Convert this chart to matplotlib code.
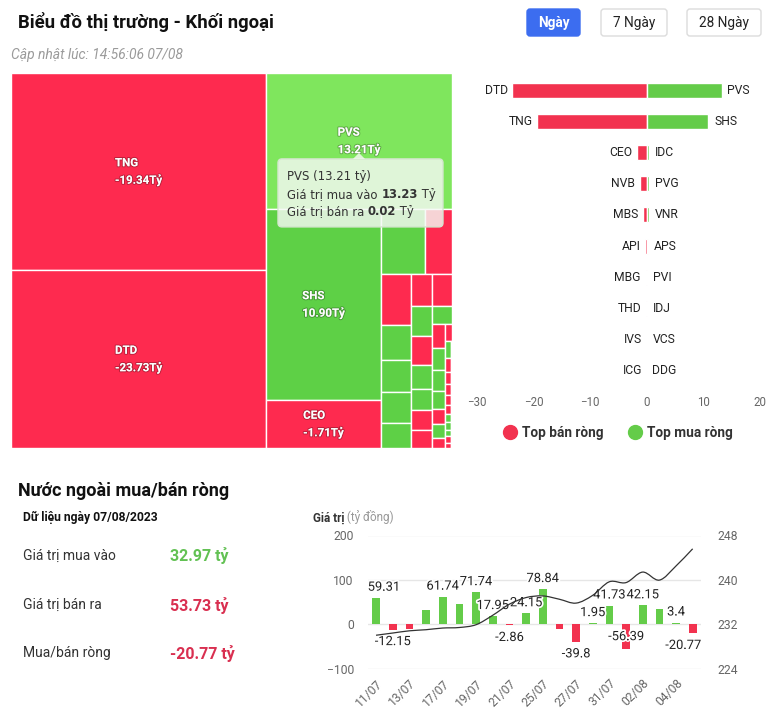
import matplotlib
matplotlib.use('Agg')
import matplotlib.pyplot as plt
import matplotlib.patheffects as pe
from matplotlib.patches import Rectangle, FancyBboxPatch, Polygon, PathPatch
from matplotlib.path import Path
from matplotlib.lines import Line2D
import numpy as np

plt.rcParams['font.family'] = ['Roboto', 'DejaVu Sans']

W, H = 774, 728

RED = '#fe2a4f'
GREEN = '#5ed046'
GREEN_HOVER = '#7fe65d'
RED_BAR = '#f2324f'
GREEN_BAR = '#64cc49'

# treemap: cell size = total traded value (buy + sell), colour = sign of net flow
tm_codes = ['TNG', 'DTD', 'PVS', 'SHS', 'CEO']
tm_net = [-19.34, -23.73, 13.21, 10.90, -1.71]
tm_total = [26.34, 23.80, 13.25, 11.52, 2.89,
            1.52, 0.93, 0.79, 0.55, 0.50, 0.49, 0.39, 0.35, 0.335, 0.33, 0.31,
            0.265, 0.23, 0.22, 0.20, 0.19, 0.17, 0.16, 0.155, 0.13, 0.105, 0.10,
            0.075, 0.058, 0.05, 0.042, 0.036, 0.032, 0.028, 0.026, 0.024, 0.022,
            0.02, 0.018, 0.016, 0.014, 0.012, 0.01, 0.008, 0.007, 0.006]
tm_up = [0, 0, 1, 1, 0,
         1, 0, 0, 1, 1, 1, 1, 0, 0, 1, 0, 1, 1, 0, 0, 1, 0, 1, 1, 1, 0, 1, 0,
         0, 1, 0, 0, 0, 0, 0, 1, 1, 1, 0, 0, 1, 0, 1, 0, 1, 0]
hover = 'PVS'
hover_buy = 13.23
hover_sell = 0.02

# top net sell / net buy
sell_codes = ['DTD', 'TNG', 'CEO', 'NVB', 'MBS', 'API', 'MBG', 'THD', 'IVS', 'ICG']
sell_vals = [-23.73, -19.34, -1.71, -1.2, -0.6, -0.3, -0.2, -0.15, -0.04, -0.03]
buy_codes = ['PVS', 'SHS', 'IDC', 'PVG', 'VNR', 'APS', 'PVI', 'IDJ', 'VCS', 'DDG']
buy_vals = [13.21, 10.90, 0.45, 0.4, 0.35, 0.25, 0.08, 0.05, 0.03, 0.02]

# daily net flow (ty dong) and index
dates = ['11/07', '12/07', '13/07', '14/07', '17/07', '18/07', '19/07', '20/07',
         '21/07', '24/07', '25/07', '26/07', '27/07', '28/07', '31/07', '01/08',
         '02/08', '03/08', '04/08', '07/08']
flow = [59.31, -12.15, -11.3, 32.1, 61.74, 45.3, 71.74, 17.95, -2.86, 24.15,
        78.84, -11.7, -39.8, 1.95, 41.73, -56.39, 42.15, 34.3, 3.4, -20.77]
index = [230.0, 230.4, 230.8, 231.0, 231.3, 231.4, 231.9, 233.6, 235.6, 236.8,
         237.1, 236.5, 235.8, 237.2, 239.65, 239.5, 241.4, 239.95, 242.5, 245.6]
hidden_labels = [2, 3, 5, 11, 17]

buy_total = 32.97
sell_total = 53.73
net_total = -20.77


def squarify(values, x, y, w, h):
    # alternating squarified layout (column first), like Highcharts
    total = sum(values)
    areas = [v * w * h / total for v in values]
    out = []
    vertical = True

    def ratio(a, s, side):
        thick = s / side
        length = a / thick
        return max(thick / length, length / thick)

    i = 0
    while i < len(areas):
        row = [areas[i]]
        j = i + 1
        while j < len(areas):
            side = h if vertical else w
            old = ratio(row[-1], sum(row), side)
            new = ratio(row[-1], sum(row) + areas[j], side)
            if new > old:
                break
            row.append(areas[j])
            j += 1
        s = sum(row)
        if vertical:
            cw = s / h
            cy = y
            for a in row:
                out.append((x, cy, cw, a / cw))
                cy += a / cw
            x += cw
            w -= cw
        else:
            rh = s / w
            cx = x
            for a in row:
                out.append((cx, y, a / rh, rh))
                cx += a / rh
            y += rh
            h -= rh
        vertical = not vertical
        i = j
    return out


fig = plt.figure(figsize=(W / 100, H / 100), dpi=100)
fig.patch.set_facecolor('white')


def axes_px(x0, y0, x1, y1, **kw):
    return fig.add_axes([x0 / W, 1 - y1 / H, (x1 - x0) / W, (y1 - y0) / H], **kw)


# ---------------- treemap
tm = axes_px(11, 73, 452, 448)
TW, TH = 441, 375
rects = squarify(tm_total, 0, 0, TW, TH)
for k, (x, y, w, h) in enumerate(rects):
    c = GREEN if tm_up[k] else RED
    if k < len(tm_codes) and tm_codes[k] == hover:
        c = GREEN_HOVER
    tm.add_patch(Rectangle((x, y), w, h, facecolor=c, edgecolor='white', lw=1))
for k, code in enumerate(tm_codes):
    x, y, w, h = rects[k]
    tm.text(x + w / 2, y + h / 2, '%s\n%.2fTỷ' % (code, tm_net[k]), ha='center', va='center',
            multialignment='left', color='white', fontsize=8.3, weight='bold', linespacing=1.3,
            path_effects=[pe.withStroke(linewidth=1.5, foreground=(0, 0, 0, 0.25))])
tm.set_xlim(0, TW)
tm.set_ylim(TH, 0)
tm.axis('off')

# ---------------- top sell / buy bars
bx = axes_px(477, 74.4, 760, 386.6)
rows = np.arange(len(sell_codes))
bx.barh(rows, sell_vals, height=0.48, color=RED_BAR, edgecolor='white', lw=1)
bx.barh(rows, buy_vals, height=0.48, color=GREEN_BAR, edgecolor='white', lw=1)
for r, code, v in zip(rows, sell_codes, sell_vals):
    bx.annotate(code, (v, r), xytext=(-3.5, 0), textcoords='offset points',
                ha='right', va='center', fontsize=8.7, color='#222')
for r, code, v in zip(rows, buy_codes, buy_vals):
    bx.annotate(code, (v, r), xytext=(4, 0), textcoords='offset points',
                ha='left', va='center', fontsize=8.7, color='#222')
bx.set_xlim(-30, 20)
bx.set_ylim(len(rows) - 0.5, -0.5)
bx.set_yticks([])
bx.set_xticks([-30, -20, -10, 0, 10, 20])
bx.tick_params(axis='x', length=0, pad=7, labelsize=8.3, labelcolor='#666')
for s in bx.spines.values():
    s.set_visible(False)
handles = [Line2D([], [], ls='', marker='o', markersize=10, color=RED_BAR),
           Line2D([], [], ls='', marker='o', markersize=10, color=GREEN_BAR)]
leg = bx.legend(handles, ['Top bán ròng', 'Top mua ròng'], loc='center', ncol=2, frameon=False,
                bbox_to_anchor=(617 / W, 1 - 433 / H), bbox_transform=fig.transFigure,
                handletextpad=0.3, columnspacing=1.7, handlelength=1.2,
                prop={'size': 9.8, 'weight': 'bold'})
for t in leg.get_texts():
    t.set_color('#333')

# ---------------- daily net flow chart
cx = axes_px(367.7, 535.5, 701, 668.5)
xs = np.arange(len(dates))
cx.bar(xs, flow, width=0.46, color=[GREEN_BAR if v >= 0 else RED_BAR for v in flow])
cx.set_xlim(-0.5, len(dates) - 0.5)
cx.set_ylim(-100, 200)
cx.set_yticks([-100, 0, 100, 200])
cx.set_axisbelow(True)
cx.grid(axis='y', color='#e6e6e6', lw=1)
cx.set_xticks(xs[::2])
cx.set_xticklabels(dates[::2], rotation=45, ha='right', rotation_mode='anchor')
cx.tick_params(axis='x', length=0, pad=6, labelsize=8.7, labelcolor='#666')
cx.tick_params(axis='y', length=0, pad=10, labelsize=8.7, labelcolor='#666')
for s in cx.spines.values():
    s.set_visible(False)

tw = cx.twinx()
tw.set_ylim(224, 248)
tw.set_yticks([224, 232, 240, 248])
tw.tick_params(axis='y', length=0, pad=12, labelsize=8.7, labelcolor='#666')
for s in tw.spines.values():
    s.set_visible(False)

# smooth line through the index points with cubic bezier segments
pts = np.column_stack([xs, index]).astype(float)
tang = np.zeros_like(pts)
tang[1:-1] = (pts[2:] - pts[:-2]) / 2
tang[0] = pts[1] - pts[0]
tang[-1] = pts[-1] - pts[-2]
verts = [pts[0]]
codes = [Path.MOVETO]
for i in range(len(pts) - 1):
    verts += [pts[i] + tang[i] / 3, pts[i + 1] - tang[i + 1] / 3, pts[i + 1]]
    codes += [Path.CURVE4] * 3
tw.add_patch(PathPatch(Path(verts, codes), fill=False, edgecolor='#333', lw=0.9))

halo = [pe.withStroke(linewidth=2.5, foreground='white')]
for i, v in enumerate(flow):
    if i in hidden_labels:
        continue
    lab = ('%.2f' % v).rstrip('0').rstrip('.')
    ha = 'center'
    xi = i
    if i == 0:
        ha, xi = 'left', -0.5
    elif i == len(flow) - 1:
        ha, xi = 'right', len(flow) - 0.5
    if v >= 0:
        cx.annotate(lab, (xi, v), xytext=(0, 3), textcoords='offset points', ha=ha, va='bottom',
                    fontsize=9.3, color='#222', path_effects=halo, zorder=5)
    elif v < -50:
        cx.annotate(lab, (xi, v / 2), ha=ha, va='center', fontsize=9.3, color='#222',
                    path_effects=halo, zorder=5)
    else:
        cx.annotate(lab, (xi, v), xytext=(0, -4), textcoords='offset points', ha=ha, va='top',
                    fontsize=9.3, color='#222', path_effects=halo, zorder=5)

# ---------------- overlay: header, tooltip, summary texts
ov = fig.add_axes([0, 0, 1, 1], zorder=10)
ov.set_xlim(0, W)
ov.set_ylim(0, H)
ov.axis('off')


def Y(y):
    return H - y


ov.text(18, Y(22), 'Biểu đồ thị trường - Khối ngoại', fontsize=13.3, weight='bold', va='center',
        family=['Liberation Sans Narrow', 'Roboto', 'DejaVu Sans'], color='#111')
ov.text(11, Y(55), 'Cập nhật lúc: 14:56:06 07/08', fontsize=10, style='italic', va='center',
        family=['Liberation Sans Narrow', 'Roboto', 'DejaVu Sans'], color='#9a9a9a')

buttons = [('Ngày', 527, 580, True), ('7 Ngày', 601, 667, False), ('28 Ngày', 687, 761, False)]
for lab, x0, x1, active in buttons:
    ov.add_patch(FancyBboxPatch((x0, Y(36)), x1 - x0, 27, boxstyle='round,pad=0,rounding_size=3',
                                facecolor='#3c6df0' if active else 'white',
                                edgecolor='#3c6df0' if active else '#dcdcdc', lw=1))
    ov.text((x0 + x1) / 2, Y(22.5), lab, ha='center', va='center', fontsize=9.8,
            weight='bold' if active else 'normal', color='white' if active else '#222',
            family=['Liberation Sans Narrow', 'Roboto', 'DejaVu Sans'])

# tooltip anchored at the hovered cell
k = tm_codes.index(hover)
x, y, w, h = rects[k]
px, py = tm.transData.transform((x + w / 2, y + h / 2))
tip_y = py - 12
ov.add_patch(FancyBboxPatch((px - 81, py - 86), 165, 68, boxstyle='round,pad=0,rounding_size=4',
                            facecolor=(0.96, 0.975, 0.955, 0.82), edgecolor='#d5e6cf', lw=1))
ov.add_patch(Polygon([(px - 6, py - 18), (px, tip_y), (px + 6, py - 18)], closed=True,
                     facecolor=(0.96, 0.975, 0.955, 0.82), edgecolor='none'))
tfont = dict(fontsize=8.4, color='#333', family=['DejaVu Sans'])
ov.text(px - 72, py - 36, '%s (%.2f tỷ)' % (hover, tm_net[k]), va='center', **tfont)
lines = [('Giá trị mua vào ', hover_buy), ('Giá trị bán ra ', hover_sell)]
for n, (lab, val) in enumerate(lines):
    t1 = ov.text(px - 72, py - 54 - 17 * n, lab, va='center', **tfont)
    t2 = ov.annotate('%.2f' % val, xy=(1, 0), xycoords=t1, va='bottom', weight='bold', **tfont)
    ov.annotate(' Tỷ', xy=(1, 0), xycoords=t2, va='bottom', **tfont)

ov.text(18, Y(491), 'Nước ngoài mua/bán ròng', fontsize=13, weight='bold', va='center', color='#111')
ov.text(23, Y(517), 'Dữ liệu ngày 07/08/2023', fontsize=8.7, weight='bold', va='center', color='#111')
summary = [('Giá trị mua vào', buy_total, '#62c153', 556),
           ('Giá trị bán ra', sell_total, '#d92f50', 605),
           ('Mua/bán ròng', net_total, '#d92f50', 653)]
for lab, val, col, yy in summary:
    ov.text(23, Y(yy), lab, fontsize=10, va='center', color='#333')
    ov.text(170, Y(yy), '%.2f tỷ' % val, fontsize=11.5, weight='bold', va='center', color=col)

t1 = ov.text(313, Y(518), 'Giá trị', fontsize=8.5, weight='bold', va='center', color='#333')
ov.annotate(' (tỷ đồng)', xy=(1, 0), xycoords=t1, va='bottom', fontsize=8.5, color='#999')

fig.savefig('out.png', dpi=100, facecolor='white')
